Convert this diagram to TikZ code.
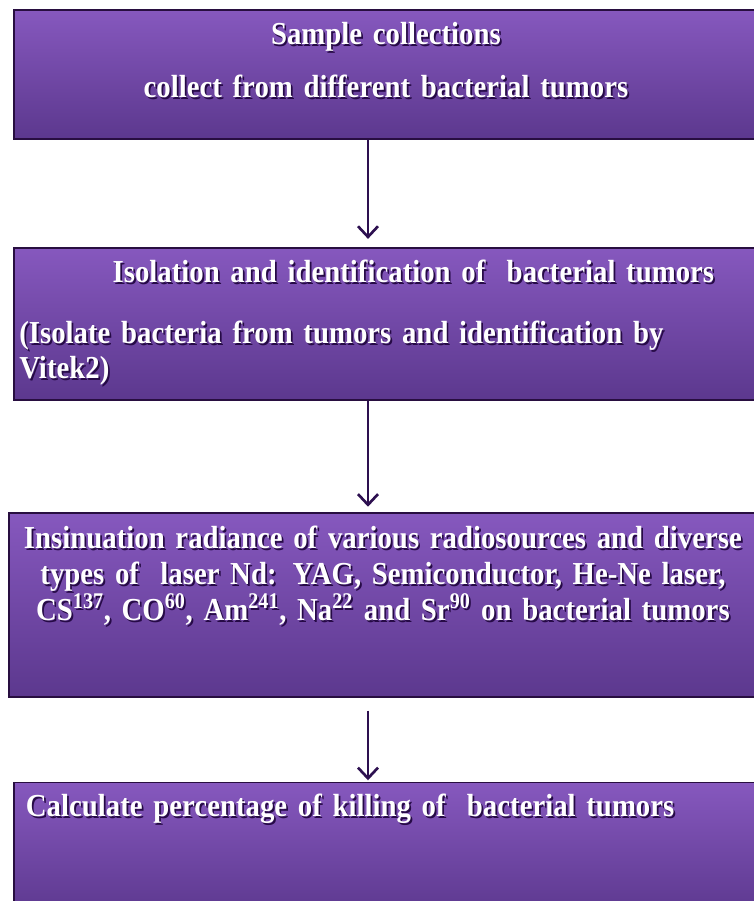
\documentclass[tikz,border=0pt]{standalone}
\usepackage{fontspec}
\setmainfont{Liberation Serif}[FakeStretch=0.9]
\usepackage{xcolor}
\usepackage{tikz}
\usetikzlibrary{arrows.meta, positioning}

\definecolor{boxtop}{RGB}{134,88,190}
\definecolor{boxbot}{RGB}{92,56,142}
\definecolor{boxline}{RGB}{40,14,64}
\definecolor{arrowcol}{RGB}{45,16,80}
\definecolor{txtshadow}{RGB}{38,10,70}

\newcommand{\shtxt}[1]{\makebox[0pt][l]{\hspace{1.3pt}\raisebox{-1.3pt}{\color{txtshadow}#1}}#1}

\begin{document}
\begin{tikzpicture}[
    box/.style={rectangle, draw=boxline, line width=1.4pt, top color=boxtop, bottom color=boxbot,
        text=white, font=\fontsize{24}{27}\selectfont\bfseries, inner xsep=4pt, inner ysep=0pt},
    arrow/.style={-{Straight Barb[length=8pt, width=15pt]}, line width=2pt, draw=arrowcol}
]
\useasboundingbox (0,0) rectangle (565.5pt,-675.75pt);

\node[box, anchor=north west, text width=550pt, align=center, text height=26.25pt, text depth=70.5pt]
    (sample) at (9.75pt,-6.75pt)
    {\shtxt{Sample collections}\\[12.75pt]
     \shtxt{collect from different bacterial tumors}};
\node[box, below=80.25pt of sample.south west, anchor=north west, text width=567.25pt, align=left,
    text height=26.25pt, text depth=87.75pt] (isolate)
    {\hspace*{70pt}\shtxt{Isolation and identification of \ bacterial tumors}\\[18.75pt]
     \shtxt{(Isolate bacteria from tumors and identification by}\\[-0.75pt]
     \shtxt{Vitek2)}};
\node[box, below=83.25pt of isolate.south west, anchor=north west, xshift=-3.75pt, inner xsep=1pt,
    text width=559pt, align=center, text height=27pt, text depth=111pt] (expose)
    {\shtxt{Insinuation radiance of various radiosources and diverse}\\
     \shtxt{types of \ laser Nd: YAG, Semiconductor, He-Ne laser,}\\
     \shtxt{CS\textsuperscript{137}, CO\textsuperscript{60}, Am\textsuperscript{241}, Na\textsuperscript{22} and Sr\textsuperscript{90} on bacterial tumors}};
\node[box, below=63pt of expose.south west, anchor=north west, xshift=3.75pt, inner xsep=9pt,
    text width=557pt, align=left, text height=25.5pt, text depth=75pt] (killing)
    {\shtxt{Calculate percentage of killing of \ bacterial tumors}};

\coordinate (axis) at (276pt,0);
\draw[arrow, shorten >=6pt] (sample.south -| axis) -- (isolate.north -| axis);
\draw[arrow, shorten >=3.75pt] (isolate.south -| axis) -- (expose.north -| axis);
\draw[arrow, shorten <=9.75pt, shorten >=1pt] (expose.south -| axis) -- (killing.north -| axis);
\end{tikzpicture}
\end{document}
